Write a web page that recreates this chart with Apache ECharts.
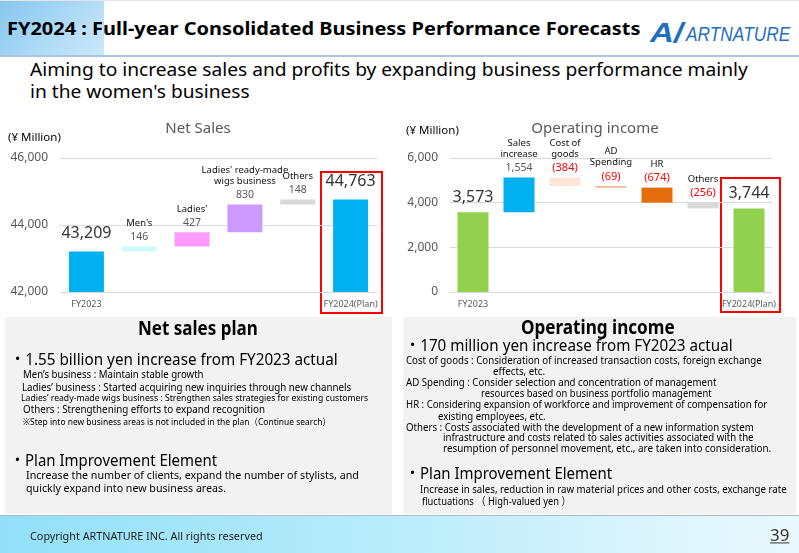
<!DOCTYPE html>
<html lang="en">
<head>
<meta charset="UTF-8">
<title>FY2024 Full-year Consolidated Business Performance Forecasts</title>
<script src="https://cdn.jsdelivr.net/npm/echarts@6/dist/echarts.min.js"></script>
<style>
    * { margin: 0; padding: 0; }
    body {
        width: 799px; height: 553px; position: relative; overflow: hidden; background: #fff;
        font-family: "Noto Sans", "Noto Sans CJK JP", sans-serif; color: #000;
    }
    .t { position: absolute; white-space: nowrap; line-height: 1.2; transform: translateY(-50%); transform-origin: 0 50%; }
    .panel { position: absolute; background: #f2f2f2; }
    .chart { position: absolute; }
</style>
</head>
<body>
    <!-- header -->
    <div style="position:absolute;left:0;top:0;width:799px;height:1px;background:#dfe6ee"></div>
    <div style="position:absolute;left:0;top:1px;width:104px;height:54px;background:linear-gradient(135deg,#86c6ee,#b9e0f7 70%,#c9e8f9)"></div>
    <div style="position:absolute;left:0;top:55px;width:799px;height:2px;background:#aac4e6"></div>
    <div class="t" style="left:7px;top:29px;font-size:18px;font-weight:bold" data-w="633">FY2024 : Full-year Consolidated Business Performance Forecasts</div>
    <div class="t" style="left:650px;top:33px;font-size:27px;font-weight:bold;font-style:italic;color:#1f6fc1;font-family:'Liberation Sans'" data-w="33">A/</div>
    <div class="t" style="left:686px;top:34px;font-size:21px;font-style:italic;color:#1f6fc1;font-family:'Liberation Sans'" data-w="104">ARTNATURE</div>

    <div class="t" style="left:30px;top:70px;font-size:18px" data-w="718">Aiming to increase sales and profits by expanding business performance mainly</div>
    <div class="t" style="left:30px;top:92px;font-size:18px" data-w="220">in the women's business</div>

    <!-- charts -->
    <div id="sales" class="chart" style="left:0;top:110px;width:400px;height:210px"></div>
    <div id="oi" class="chart" style="left:400px;top:110px;width:399px;height:210px"></div>

    <!-- left panel -->
    <div class="panel" style="left:5px;top:317px;width:387px;height:197px"></div>
    <div class="t" style="left:138px;top:328px;font-size:19px;font-weight:bold" data-w="120">Net sales plan</div>
    <div class="t" style="left:10px;top:359px;font-size:17px" data-w="328">・1.55 billion yen increase from FY2023 actual</div>
    <div class="t" style="left:23px;top:374px;font-size:10.5px" data-w="181">Men’s business :  Maintain stable growth</div>
    <div class="t" style="left:22px;top:387px;font-size:11px" data-w="329">Ladies’ business : Started acquiring new inquiries through new channels</div>
    <div class="t" style="left:21px;top:398px;font-size:9.5px" data-w="347">Ladies’ ready-made wigs business  : Strengthen sales strategies for existing customers</div>
    <div class="t" style="left:23px;top:409px;font-size:11px" data-w="242">Others  :  Strengthening efforts to expand recognition</div>
    <div class="t" style="left:23px;top:422px;font-size:9px" data-w="308">※Step into new business areas is not included in the plan（Continue search）</div>
    <div class="t" style="left:10px;top:460px;font-size:17px" data-w="207">・Plan Improvement Element</div>
    <div class="t" style="left:26px;top:475px;font-size:11.5px" data-w="333">Increase the number of clients, expand the number of stylists, and</div>
    <div class="t" style="left:26px;top:488px;font-size:11.5px" data-w="200">quickly expand into new business areas.</div>

    <!-- right panel -->
    <div class="panel" style="left:403px;top:317px;width:393px;height:197px"></div>
    <div class="t" style="left:521px;top:327px;font-size:19px;font-weight:bold" data-w="154">Operating income</div>
    <div class="t" style="left:405px;top:345px;font-size:17px" data-w="328">・170 million yen increase from FY2023 actual</div>
    <div class="t" style="left:406px;top:360px;font-size:10.5px" data-w="356">Cost of goods  : Consideration of increased transaction costs, foreign exchange</div>
    <div class="t" style="left:493px;top:371px;font-size:10.5px" data-w="52">effects, etc.</div>
    <div class="t" style="left:406px;top:382px;font-size:10.5px" data-w="310">AD Spending : Consider selection and concentration of management</div>
    <div class="t" style="left:481px;top:393px;font-size:10.5px" data-w="231">resources based on business portfolio management</div>
    <div class="t" style="left:406px;top:404px;font-size:10.5px" data-w="361">HR : Considering expansion of workforce and improvement of compensation for</div>
    <div class="t" style="left:438px;top:416px;font-size:10.5px" data-w="108">existing employees, etc.</div>
    <div class="t" style="left:406px;top:427px;font-size:10.5px" data-w="348">Others : Costs associated with the development of a new information system</div>
    <div class="t" style="left:443px;top:437px;font-size:10.5px" data-w="311">infrastructure and costs related to sales activities associated with the</div>
    <div class="t" style="left:443px;top:448px;font-size:10.5px" data-w="328">resumption of personnel movement, etc., are taken into consideration.</div>
    <div class="t" style="left:405px;top:473px;font-size:17px" data-w="207">・Plan Improvement Element</div>
    <div class="t" style="left:420px;top:489px;font-size:10.5px" data-w="367">Increase in sales, reduction in raw material prices and other costs, exchange rate</div>
    <div class="t" style="left:422px;top:501px;font-size:10.5px" data-w="149">fluctuations （ High-valued yen ）</div>

    <!-- footer -->
    <div style="position:absolute;left:0;top:515px;width:799px;height:38px;border-top:1px solid #a3b9d0;background:linear-gradient(90deg,#92e0f8 0%,#b5ebfa 45%,#d9f4fc 80%,#eaf9fd 100%)"></div>
    <div class="t" style="left:30px;top:536px;font-size:11px;color:#222" data-w="233">Copyright ARTNATURE INC. All rights reserved</div>
    <div class="t" style="left:770px;top:536px;font-size:16px;color:#333;text-decoration:underline" data-w="19">39</div>

    <script>
        // Net Sales waterfall (¥ Million)
        var salesCats = ['FY2023', "Men's", "Ladies'", "Ladies' ready-made\nwigs business", 'Others', 'FY2024(Plan)']
        var salesValues = [43209, 146, 427, 830, 148, 44763]
        var salesTicks = [42000, 44000, 46000]

        // Operating income waterfall (¥ Million)
        var oiCats = ['FY2023', 'Sales\nincrease', 'Cost of\ngoods', 'AD\nSpending', 'HR', 'Others', 'FY2024(Plan)']
        var oiValues = [3573, 1554, -384, -69, -674, -256, 3744]
        var oiTicks = [0, 2000, 4000, 6000]

        var salesColors = ['#00b0f0', '#ccfbfc', '#ff99ff', '#cc99ff', '#d9d9d9', '#00b0f0']
        var oiColors = ['#92d050', '#00b0f0', '#fce4d6', '#f4b183', '#e46c0a', '#d9d9d9', '#92d050']

        // fit text lines to the widths measured on the slide
        document.querySelectorAll('.t[data-w]').forEach(function (el) {
            var k = +el.dataset.w / el.offsetWidth
            el.style.transform = 'translateY(-50%) scaleX(' + k + ')'
        })

        function fmt(v) {
            return String(v).replace(/\B(?=(\d{3})+(?!\d))/g, ',')
        }

        // base (transparent) + visible part of each waterfall step
        function waterfall(values) {
            var base = [], bars = [], run = 0
            values.forEach(function (v, i) {
                if (i === 0 || i === values.length - 1) {
                    base.push(0); bars.push(v); run = v
                } else {
                    base.push(v < 0 ? run + v : run); bars.push(Math.abs(v)); run += v
                }
            })
            return { base: base, bars: bars }
        }

        function buildOption(o) {
            var w = waterfall(o.values)
            var last = o.values.length - 1
            return {
                animation: false,
                textStyle: { fontFamily: 'Noto Sans' },
                grid: o.grid,
                xAxis: {
                    type: 'category',
                    data: o.cats,
                    axisLine: { show: false },
                    axisTick: { show: false },
                    axisLabel: {
                        interval: 0, margin: 8, fontSize: 9, color: '#595959',
                        formatter: function (v, i) { return (i === 0 || i === last) ? v : '' }
                    }
                },
                yAxis: {
                    type: 'value',
                    min: o.ticks[0],
                    max: o.ticks[o.ticks.length - 1],
                    interval: o.ticks[1] - o.ticks[0],
                    axisLabel: { fontSize: 12, color: '#595959', margin: 12, formatter: fmt },
                    splitLine: { lineStyle: { color: '#d9d9d9' } }
                },
                graphic: o.graphic,
                series: [{
                    type: 'bar', stack: 'w', barWidth: o.barWidth, silent: true,
                    itemStyle: { color: 'transparent' },
                    data: w.base
                }, {
                    type: 'bar', stack: 'w', barWidth: o.barWidth,
                    data: w.bars.map(function (v, i) {
                        var total = i === 0 || i === last
                        var txt
                        if (total) {
                            txt = '{t|' + fmt(o.values[i]) + '}'
                        } else {
                            var val = o.values[i]
                            txt = o.cats[i].split('\n').map(function (s) { return '{n|' + s + '}' }).join('\n') +
                                '\n' + (val < 0 ? '{r|(' + fmt(-val) + ')}' : '{v|' + fmt(val) + '}')
                        }
                        return {
                            value: v,
                            itemStyle: { color: o.colors[i] },
                            label: {
                                show: true, position: 'top', distance: total ? o.totalDist : 1,
                                formatter: txt,
                                rich: {
                                    t: { fontSize: 16, color: '#333', lineHeight: 20 },
                                    n: { fontSize: 9.5, color: '#111', lineHeight: 11 },
                                    v: { fontSize: 10.5, color: '#595959', lineHeight: 17 },
                                    r: { fontSize: 11, color: '#ff0000', lineHeight: 17 }
                                }
                            }
                        }
                    })
                }]
            }
        }

        var salesChart = echarts.init(document.getElementById('sales'))
        salesChart.setOption(buildOption({
            cats: salesCats, values: salesValues, ticks: salesTicks, colors: salesColors,
            grid: { left: 60, right: 23, top: 48, bottom: 28 },
            barWidth: 35, totalDist: 8,
            graphic: [
                { type: 'text', x: 8, y: 28, style: { text: '(¥ Million)', fill: '#000', font: '11.5px "Noto Sans"', textVerticalAlign: 'middle' } },
                { type: 'text', x: 198, y: 19, style: { text: 'Net Sales', fill: '#595959', font: '15px "Noto Sans"', textAlign: 'center', textVerticalAlign: 'middle' } },
                { type: 'rect', shape: { x: 321, y: 62, width: 61, height: 141 }, style: { fill: 'none', stroke: '#ff0000', lineWidth: 2 } }
            ]
        }))

        var oiChart = echarts.init(document.getElementById('oi'))
        oiChart.setOption(buildOption({
            cats: oiCats, values: oiValues, ticks: oiTicks, colors: oiColors,
            grid: { left: 50, right: 27, top: 48, bottom: 28 },
            barWidth: 31, totalDist: 5,
            graphic: [
                { type: 'text', x: 6, y: 21, style: { text: '(¥ Million)', fill: '#000', font: '11.5px "Noto Sans"', textVerticalAlign: 'middle' } },
                { type: 'text', x: 195, y: 19, style: { text: 'Operating income', fill: '#595959', font: '15px "Noto Sans"', textAlign: 'center', textVerticalAlign: 'middle' } },
                { type: 'rect', shape: { x: 321, y: 68, width: 59, height: 134 }, style: { fill: 'none', stroke: '#ff0000', lineWidth: 2 } }
            ]
        }))
    </script>
</body>
</html>
